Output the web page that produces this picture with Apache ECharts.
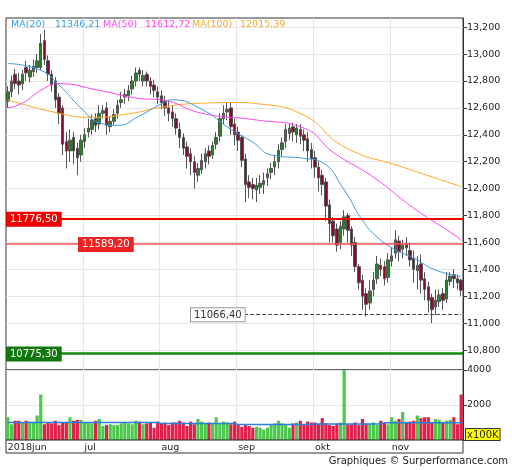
<!DOCTYPE html><html><head><meta charset="utf-8">
<script src="https://cdn.jsdelivr.net/npm/echarts@6/dist/echarts.min.js"></script>
<style>html,body{margin:0;padding:0;background:#fff}#c{width:512px;height:470px}</style></head><body><div id="c"></div>
<script>
const closes=[12720,12800,12780,12770,12850,12860,12880,12910,12950,13080,12960,12850,12770,12660,12560,12330,12280,12360,12280,12230,12360,12400,12450,12510,12470,12560,12580,12470,12500,12550,12620,12660,12700,12730,12800,12860,12850,12840,12800,12760,12730,12680,12640,12600,12560,12520,12450,12380,12300,12240,12200,12120,12150,12210,12260,12240,12320,12380,12520,12560,12590,12460,12400,12360,12210,12030,12010,12000,12025,12040,12060,12110,12150,12200,12285,12340,12440,12450,12420,12450,12390,12360,12280,12220,12160,12080,12030,11870,11740,11650,11580,11720,11790,11690,11580,11420,11300,11200,11140,11240,11320,11440,11400,11330,11470,11500,11620,11530,11580,11560,11470,11400,11430,11320,11250,11170,11100,11170,11210,11170,11320,11350,11330,11300,11245];
const opens=[12650,12720,12850,12800,12780,12900,12830,12870,12900,12900,13100,12950,12850,12800,12680,12600,12350,12280,12380,12300,12250,12350,12420,12440,12520,12480,12560,12600,12460,12500,12560,12640,12680,12690,12740,12800,12880,12800,12850,12800,12770,12720,12690,12650,12600,12570,12520,12440,12380,12310,12260,12200,12100,12140,12200,12280,12250,12330,12390,12520,12570,12600,12480,12420,12380,12220,12050,12030,11990,12010,12030,12080,12120,12160,12200,12290,12350,12410,12460,12400,12440,12400,12370,12290,12230,12160,12100,12050,11880,11760,11700,11600,11700,11800,11700,11600,11420,11320,11220,11150,11250,11330,11430,11420,11340,11460,11520,11610,11550,11590,11540,11480,11390,11440,11330,11270,11190,11120,11160,11220,11180,11310,11360,11330,11320];
const highs=[12760,12840,12890,12860,12880,12950,12920,12960,13000,13150,13180,12990,12880,12830,12710,12620,12420,12440,12420,12340,12400,12450,12520,12550,12560,12620,12620,12640,12540,12590,12660,12720,12740,12770,12840,12900,12900,12880,12870,12830,12810,12760,12730,12690,12650,12620,12560,12490,12410,12350,12300,12240,12190,12260,12300,12320,12350,12420,12560,12620,12640,12640,12520,12460,12400,12260,12100,12080,12080,12100,12120,12150,12190,12250,12330,12380,12480,12480,12490,12480,12480,12440,12420,12340,12280,12200,12140,12080,11920,11790,11740,11760,11840,11820,11720,11640,11440,11360,11260,11320,11380,11500,11480,11460,11520,11560,11690,11650,11620,11640,11600,11540,11500,11510,11380,11310,11220,11250,11250,11260,11380,11380,11400,11360,11330];
const lows=[12600,12680,12740,12700,12730,12800,12790,12830,12860,12880,12920,12800,12720,12600,12480,12250,12150,12200,12180,12100,12200,12300,12380,12400,12420,12440,12520,12400,12420,12470,12520,12600,12630,12650,12700,12760,12800,12760,12760,12700,12680,12630,12590,12540,12500,12460,12400,12300,12250,12150,12100,12000,12050,12110,12150,12180,12220,12290,12350,12480,12510,12400,12320,12280,12160,11900,11930,11920,11900,11960,11960,12020,12070,12100,12150,12240,12300,12360,12350,12340,12330,12280,12200,12150,12080,11980,11950,11760,11600,11600,11530,11550,11650,11600,11500,11380,11250,11100,11050,11100,11200,11290,11350,11280,11300,11420,11480,11460,11480,11500,11420,11300,11250,11220,11170,11080,11000,11060,11120,11100,11150,11280,11260,11250,11200];
const volumes=[1300,900,1100,1100,1000,1100,1050,1000,1400,2600,900,1000,950,1100,850,1000,1000,1300,1100,1150,1150,1000,1000,950,1100,1200,800,850,900,850,850,950,1000,950,900,1100,1050,900,950,1000,700,1050,950,1000,850,1000,1000,1100,1000,800,1050,900,1200,1050,950,1000,950,1300,950,1050,1000,900,1050,850,750,850,800,700,750,700,600,700,850,950,1100,950,850,700,950,1000,1100,900,1050,1000,1000,900,1250,950,850,800,950,1000,4000,900,900,1000,850,1200,900,900,1000,850,1100,1000,900,1300,1100,1200,1600,1000,1050,1100,1400,1250,1300,1300,1000,1200,1150,1000,1100,1150,1300,900,2600];
const ma20=[[0,12930],[9,12880],[14,12770],[20,12600],[25,12490],[30,12470],[36,12540],[42,12630],[45,12660],[53,12590],[61,12440],[67,12345],[72,12250],[81,12225],[86,12195],[92,11990],[97,11765],[101,11640],[106,11545],[111,11485],[117,11395],[124,11346]];
const ma50=[[0,12600],[4,12635],[9,12730],[14,12780],[25,12730],[36,12670],[42,12660],[53,12560],[68,12510],[81,12450],[89,12270],[100,12085],[111,11855],[123,11640],[124,11612]];
const ma100=[[0,12660],[14,12560],[23,12530],[34,12560],[42,12605],[53,12635],[64,12640],[67,12635],[81,12546],[92,12310],[108,12160],[124,12015]];
const volMA=[[0,1000],[20,1000],[21,1000],[41,1000],[42,950],[62,950],[63,880],[82,880],[83,920],[102,920],[103,980],[124,980]];
const monthStarts=[0,21,42,63,84,105];
const monthNames=['2018jun','jul','aug','sep','okt','nov'];
const priceTicks=[10800,11000,11200,11400,11600,11800,12000,12200,12400,12600,12800,13000,13200];
const levels={red1:11776.50,red2:11589.20,green:10775.30,dash:11066.40};
const legendNames=['MA(20)','MA(50)','MA(100)'];
const legendVals=['11346,21','11612,72','12015,39'];

const cats=closes.map((_,i)=>String(i));
const ohlc=closes.map((c,i)=>[opens[i],c,lows[i],highs[i]]);
const volData=volumes.map((v,i)=>({value:v,itemStyle:{color:closes[i]>=opens[i]?'#4cc84c':'#e0204a'}}));
const splitIdx=new Set(monthStarts.slice(1));
const ch=echarts.init(document.getElementById('c'));
const F='DejaVu Sans';
ch.setOption({
 animation:false,
 grid:[{left:6,right:49,top:18,height:352,show:true,borderColor:'#333',borderWidth:1},
       {left:6,right:49,top:370,height:70,show:true,borderColor:'#333',borderWidth:1}],
 xAxis:[{type:'category',data:cats,gridIndex:0,boundaryGap:true,axisLine:{show:false},axisTick:{show:false},axisLabel:{show:false},
   splitLine:{show:true,interval:(i)=>splitIdx.has(i),lineStyle:{color:'#e6e6e6'}}},
  {type:'category',data:cats,gridIndex:1,boundaryGap:true,axisLine:{show:false},axisTick:{show:false},
   axisLabel:{show:true,interval:(i)=>monthStarts.includes(i),formatter:(v)=>monthNames[monthStarts.indexOf(+v)]||'',color:'#222',fontFamily:F,fontSize:9.5,margin:3,align:'left'},
   splitLine:{show:true,interval:(i)=>splitIdx.has(i),lineStyle:{color:'#e6e6e6'}}}],
 yAxis:[{type:'value',gridIndex:0,position:'right',min:10652,max:13268,scale:true,
   axisLine:{show:true,lineStyle:{color:'#333'}},
   axisTick:{show:true,length:4,customValues:priceTicks,lineStyle:{color:'#333'}},
   axisLabel:{customValues:priceTicks,color:'#222',fontFamily:F,fontSize:9.5,margin:4},
   splitLine:{show:true,lineStyle:{color:'#e6e6e6'}}},
  {type:'value',gridIndex:1,position:'right',min:0,max:4000,interval:2000,
   axisLine:{show:true,lineStyle:{color:'#333'}},axisTick:{show:true,length:4,lineStyle:{color:'#333'}},
   axisLabel:{color:'#222',fontFamily:F,fontSize:9.5,margin:4,formatter:v=>v===0?'':v},
   splitLine:{show:true,lineStyle:{color:'#e6e6e6'}}}],
 series:[
  {type:'candlestick',xAxisIndex:0,yAxisIndex:0,data:ohlc,barWidth:3,
   itemStyle:{color:'#1e8a1e',color0:'#8a0a2a',borderColor:'#555',borderColor0:'#555',borderWidth:1},
   markLine:{symbol:'none',silent:true,label:{show:false},data:[
    {yAxis:levels.red1,lineStyle:{color:'#ee0000',width:2,type:'solid'}},
    {yAxis:levels.red2,lineStyle:{color:'#f05050',width:1.5,type:'solid'}},
    {yAxis:levels.green,lineStyle:{color:'#118811',width:2.5,type:'solid'}},
    [{coord:[63,levels.dash],lineStyle:{color:'#444',width:1,type:'dashed'}},{coord:[124,levels.dash]}]
   ]}},
  {type:'line',data:ma100,symbol:'none',smooth:true,lineStyle:{color:'#ffa726',width:1}},
  {type:'line',data:ma50,symbol:'none',smooth:true,lineStyle:{color:'#ff44ee',width:1}},
  {type:'line',data:ma20,symbol:'none',smooth:true,lineStyle:{color:'#3b9de0',width:1}},
  {type:'bar',xAxisIndex:1,yAxisIndex:1,data:volData,barWidth:3.2},
  {type:'line',xAxisIndex:1,yAxisIndex:1,data:volMA,symbol:'none',lineStyle:{color:'#2a7fd8',width:1.5}}
 ]
});
const yp=v=>ch.convertToPixel({yAxisIndex:0},v);
function box(x,y,t,bg,fg,bd){return {type:'text',left:x,top:y-7,z:100,style:{text:t,fill:fg,backgroundColor:bg,borderColor:bd||bg,borderWidth:1,padding:[2,3,1,3],font:'10px '+F}};}
const lc=['#3b9de0','#ff44ee','#ffa726'];
const lx=[[11,55],[103,145],[192,240]];
const g=[
 box(6,yp(levels.red1),'11776,50','#ee0000','#fff'),
 box(78,yp(levels.red2),'11589,20','#ee2222','#fff'),
 box(6,yp(levels.green),'10775,30','#117711','#fff'),
 box(190,yp(levels.dash),'11066,40','#fff','#333','#999'),
 {type:'text',left:465,top:428,z:100,style:{text:'x100K',fill:'#222',backgroundColor:'#ffff00',borderColor:'#333',borderWidth:1,padding:[1,1,0,1],font:'10px '+F}},
 {type:'rect',shape:{x:6,y:440,width:457,height:13},style:{fill:'none',stroke:'#333',lineWidth:1},z:100},
 {type:'text',right:4,top:456,z:100,style:{text:'Graphiques © Surperformance.com',fill:'#222',font:'10px '+F}}
];
legendNames.forEach((n,k)=>{
 g.push({type:'text',left:lx[k][0],top:20,z:100,style:{text:n,fill:lc[k],font:'9.5px '+F}});
 g.push({type:'text',left:lx[k][1],top:20,z:100,style:{text:legendVals[k],fill:lc[k],font:'9.5px '+F}});
});
ch.setOption({graphic:g});
</script></body></html>
